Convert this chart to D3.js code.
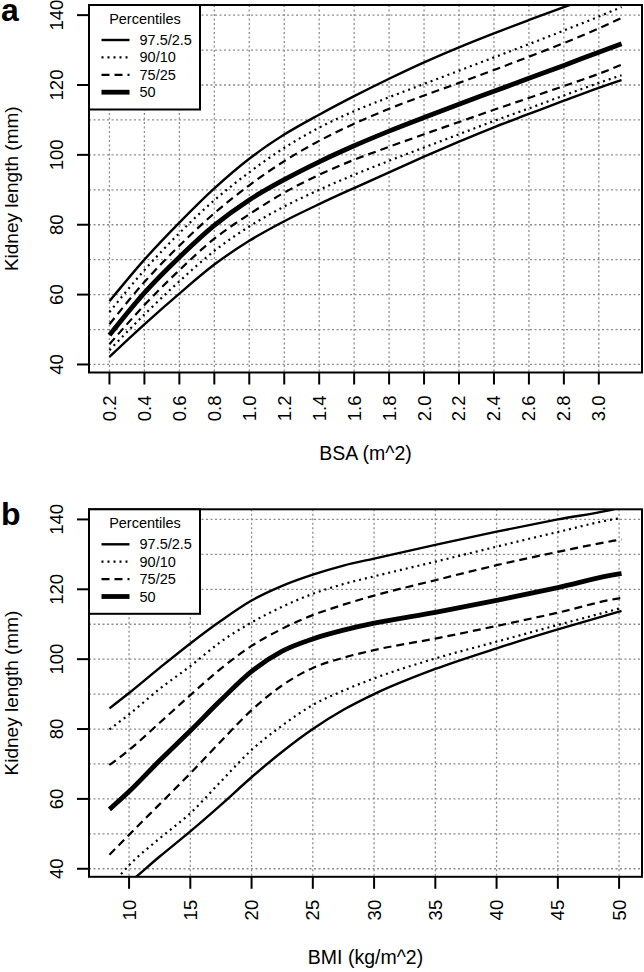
<!DOCTYPE html>
<html>
<head>
<meta charset="utf-8">
<script src="https://cdn.jsdelivr.net/npm/d3@7"></script>
<style>
  body { margin: 0; background: #fff; }
  svg { display: block; font-family: "Liberation Sans", Arial, Helvetica, sans-serif; }
</style>
</head>
<body>
<div id="chart"></div>
<script>
// panel a: kidney length vs body surface area
const bsaX = [0.2, 0.4, 0.6, 0.8, 1.0, 1.2, 1.4, 1.6, 1.8, 2.0, 2.2, 2.4, 2.6, 2.8, 3.0, 3.13];
const bsaP975 = [58.1, 70.0, 80.6, 90.4, 98.9, 105.8, 111.5, 116.8, 121.8, 126.5, 130.8, 134.8, 138.6, 142.3, 145.8, 148.0];
const bsaP90  = [55.0, 67.0, 77.6, 87.0, 95.0, 102.0, 107.8, 112.5, 116.5, 120.3, 124.1, 127.9, 131.7, 135.6, 139.6, 142.3];
const bsaP75  = [51.5, 63.6, 74.0, 83.3, 91.3, 98.2, 104.0, 108.9, 113.2, 117.0, 120.6, 124.3, 128.1, 132.0, 136.2, 139.2];
const bsaP50  = [48.4, 60.5, 70.7, 79.8, 87.1, 92.9, 98.0, 102.6, 106.8, 110.7, 114.5, 118.2, 121.9, 125.6, 129.4, 131.8];
const bsaP25  = [45.8, 57.0, 67.0, 76.0, 83.0, 89.2, 94.3, 98.6, 102.3, 105.9, 109.4, 112.9, 116.3, 119.7, 123.2, 125.8];
const bsaP10  = [44.1, 54.3, 63.8, 72.5, 79.5, 85.2, 90.0, 94.3, 98.3, 102.1, 105.9, 109.7, 113.3, 117.0, 120.6, 122.8];
const bsaP025 = [42.2, 51.5, 60.3, 68.6, 75.4, 81.0, 85.9, 90.5, 95.0, 99.5, 103.8, 107.9, 111.7, 115.5, 119.2, 121.4];

// panel b: kidney length vs body mass index
const bmiX = [8.4, 10, 12.5, 15, 17.5, 20, 22.5, 25, 27.5, 30, 35, 40, 45, 50, 50.2];
const bmiP975 = [85.9, 90.3, 97.5, 104.5, 111.0, 116.8, 121.0, 124.2, 126.8, 128.8, 132.7, 136.5, 140.0, 143.3, 143.5];
const bmiP90  = [79.9, 84.2, 91.5, 98.0, 105.0, 110.5, 115.0, 118.7, 121.5, 123.7, 127.9, 132.2, 136.4, 140.3, 140.4];
const bmiP75  = [69.7, 74.0, 81.8, 89.7, 97.3, 103.8, 108.7, 112.6, 115.6, 118.2, 122.6, 126.9, 130.7, 134.1, 134.2];
const bmiP50  = [57.0, 62.1, 71.0, 79.5, 88.3, 96.5, 102.3, 105.8, 108.3, 110.3, 113.4, 116.8, 120.5, 124.4, 124.5];
const bmiP25  = [44.0, 49.7, 58.5, 67.3, 76.5, 85.4, 92.5, 97.5, 100.4, 102.6, 105.9, 109.5, 113.3, 117.4, 117.5];
const bmiP10  = [34.5, 41.0, 48.7, 55.9, 65.0, 74.0, 81.0, 86.9, 91.0, 94.5, 100.2, 105.0, 109.8, 114.5, 114.7];
const bmiP025 = [31.5, 36.0, 43.5, 50.7, 58.3, 66.2, 73.5, 80.0, 85.5, 90.0, 97.2, 103.1, 108.5, 113.6, 113.8];

const bsaTicks = [0.2, 0.4, 0.6, 0.8, 1.0, 1.2, 1.4, 1.6, 1.8, 2.0, 2.2, 2.4, 2.6, 2.8, 3.0];
const bmiTicks = [10, 15, 20, 25, 30, 35, 40, 45, 50];
const yTicks = [40, 60, 80, 100, 120, 140];
const yGrid = [40, 50, 60, 70, 80, 90, 100, 110, 120, 130, 140];
const legendLabels = ["97.5/2.5", "90/10", "75/25", "50"];

const width = 644, height = 972;
const boxLeft = 89, boxRight = 642, boxHeight = 367.5;

const lineStyles = {
    solid:  { width: 2.4, dash: null },
    dotted: { width: 2.2, dash: "2,4" },
    dashed: { width: 2.2, dash: "8,5" },
    thick:  { width: 4.8, dash: null }
};

const svg = d3.select("#chart")
    .append("svg")
    .attr("width", width)
    .attr("height", height)
    .attr("viewBox", `0 0 ${width} ${height}`);

const drawPanel = (opt) => {
    const top = opt.top, bottom = opt.top + boxHeight;

    const xScale = d3.scaleLinear().domain(opt.xDomain).range([boxLeft, boxRight]);
    const yScale = d3.scaleLinear().domain([37.7, 142.9]).range([bottom, top]);

    const g = svg.append("g");

    // grid (R grid(): light gray dotted)
    g.selectAll(".hgrid")
        .data(yGrid)
        .join("line")
        .attr("x1", boxLeft).attr("x2", boxRight)
        .attr("y1", d => yScale(d)).attr("y2", d => yScale(d))
        .attr("stroke", "#8c8c8c")
        .attr("stroke-width", 1.3)
        .attr("stroke-dasharray", "2,2.5");

    g.selectAll(".vgrid")
        .data(opt.xTicks)
        .join("line")
        .attr("x1", d => xScale(d)).attr("x2", d => xScale(d))
        .attr("y1", top).attr("y2", bottom)
        .attr("stroke", "#8c8c8c")
        .attr("stroke-width", 1.3)
        .attr("stroke-dasharray", "2,2.5");

    // clip curves to plotting region
    svg.append("clipPath")
        .attr("id", opt.clipId)
        .append("rect")
        .attr("x", boxLeft).attr("y", top)
        .attr("width", boxRight - boxLeft).attr("height", boxHeight);

    const line = d3.line()
        .x((d, i) => xScale(opt.xs[i]))
        .y(d => yScale(d))
        .curve(d3.curveMonotoneX);

    g.append("g")
        .attr("clip-path", `url(#${opt.clipId})`)
        .selectAll("path")
        .data(opt.series)
        .join("path")
        .attr("d", d => line(d.values))
        .attr("fill", "none")
        .attr("stroke", "#000")
        .attr("stroke-width", d => lineStyles[d.style].width)
        .attr("stroke-dasharray", d => lineStyles[d.style].dash);

    // frame
    g.append("rect")
        .attr("x", boxLeft).attr("y", top)
        .attr("width", boxRight - boxLeft).attr("height", boxHeight)
        .attr("fill", "none")
        .attr("stroke", "#000")
        .attr("stroke-width", 2);

    // x ticks + rotated labels
    g.selectAll(".xtick")
        .data(opt.xTicks)
        .join("line")
        .attr("x1", d => xScale(d)).attr("x2", d => xScale(d))
        .attr("y1", bottom).attr("y2", bottom + 12)
        .attr("stroke", "#000")
        .attr("stroke-width", 2);

    g.selectAll(".xlabel")
        .data(opt.xTicks)
        .join("text")
        .attr("transform", d => `translate(${xScale(d)}, ${bottom + 23}) rotate(-90)`)
        .attr("text-anchor", "end")
        .attr("dy", "0.35em")
        .attr("font-size", 18.5)
        .text(opt.xFormat);

    // y ticks + labels
    g.selectAll(".ytick")
        .data(yTicks)
        .join("line")
        .attr("x1", boxLeft - 12).attr("x2", boxLeft)
        .attr("y1", d => yScale(d)).attr("y2", d => yScale(d))
        .attr("stroke", "#000")
        .attr("stroke-width", 2);

    g.selectAll(".ylabel")
        .data(yTicks)
        .join("text")
        .attr("transform", d => `translate(63, ${yScale(d)}) rotate(-90)`)
        .attr("text-anchor", "middle")
        .attr("font-size", 18.5)
        .text(d => d);

    // axis titles
    g.append("text")
        .attr("x", (boxLeft + boxRight) / 2)
        .attr("y", bottom + 87.5)
        .attr("text-anchor", "middle")
        .attr("font-size", 19.5)
        .text(opt.xTitle);

    g.append("text")
        .attr("transform", `translate(18, ${(top + bottom) / 2}) rotate(-90)`)
        .attr("text-anchor", "middle")
        .attr("font-size", 19)
        .text("Kidney length (mm)");

    // panel letter
    g.append("text")
        .attr("x", 1)
        .attr("y", top + 16)
        .attr("font-size", 32)
        .attr("font-weight", "bold")
        .text(opt.letter);

    // legend in the top-left corner
    const legend = g.append("g")
        .attr("transform", `translate(${boxLeft}, ${top})`);

    legend.append("rect")
        .attr("width", 111).attr("height", 104.5)
        .attr("fill", "#fff")
        .attr("stroke", "#000")
        .attr("stroke-width", 2);

    legend.append("text")
        .attr("x", 56).attr("y", 18.5)
        .attr("text-anchor", "middle")
        .attr("font-size", 14.5)
        .text("Percentiles");

    const legendStyles = ["solid", "dotted", "dashed", "thick"];
    legendLabels.forEach((label, i) => {
        const row = legend.append("g").attr("transform", `translate(0, ${35 + i * 17.4})`);
        row.append("line")
            .attr("x1", 12.5).attr("x2", 40.5)
            .attr("stroke", "#000")
            .attr("stroke-width", lineStyles[legendStyles[i]].width)
            .attr("stroke-dasharray", lineStyles[legendStyles[i]].dash);
        row.append("text")
            .attr("x", 50.5)
            .attr("dy", "0.35em")
            .attr("font-size", 14.5)
            .text(label);
    });
};

drawPanel({
    top: 5,
    letter: "a",
    xs: bsaX,
    xDomain: [0.083, 3.247],
    xTicks: bsaTicks,
    xFormat: d => d.toFixed(1),
    xTitle: "BSA (m^2)",
    clipId: "clipA",
    series: [
        { values: bsaP975, style: "solid" },
        { values: bsaP90, style: "dotted" },
        { values: bsaP75, style: "dashed" },
        { values: bsaP50, style: "thick" },
        { values: bsaP25, style: "dashed" },
        { values: bsaP10, style: "dotted" },
        { values: bsaP025, style: "solid" }
    ]
});

drawPanel({
    top: 509.3,
    letter: "b",
    xs: bmiX,
    xDomain: [6.73, 51.87],
    xTicks: bmiTicks,
    xFormat: d => d,
    xTitle: "BMI (kg/m^2)",
    clipId: "clipB",
    series: [
        { values: bmiP975, style: "solid" },
        { values: bmiP90, style: "dotted" },
        { values: bmiP75, style: "dashed" },
        { values: bmiP50, style: "thick" },
        { values: bmiP25, style: "dashed" },
        { values: bmiP10, style: "dotted" },
        { values: bmiP025, style: "solid" }
    ]
});
</script>
</body>
</html>
